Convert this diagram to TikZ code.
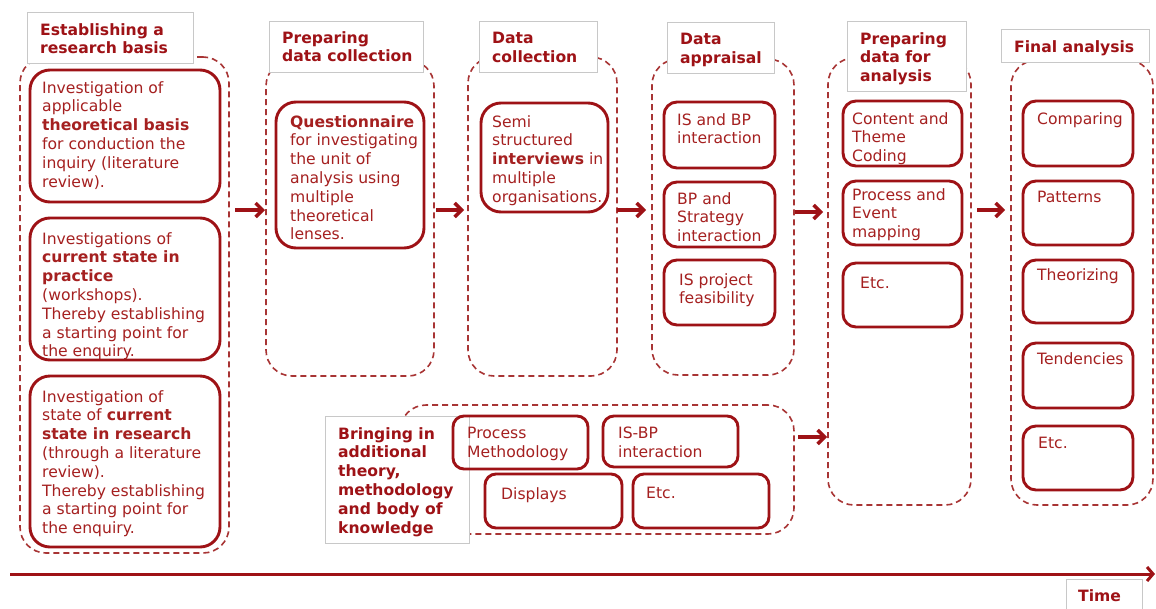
\documentclass[tikz,border=0pt]{standalone}
\usepackage{fontspec}
\setmainfont{DejaVu Sans}
\usetikzlibrary{arrows.meta,calc}
\definecolor{dred}{RGB}{158,18,22}
\definecolor{tred}{RGB}{165,32,32}
\definecolor{dashred}{RGB}{168,52,52}
\definecolor{gbord}{RGB}{200,200,200}
\begin{document}
\begin{tikzpicture}[x=1pt,y=-1pt,
  rect/.style={rectangle, anchor=north west, inner sep=0pt, outer sep=0pt},
  dbox/.style={rect, draw=dashred, line width=1.6pt, dash pattern=on 6pt off 4pt, rounded corners=26pt},
  ibox/.style={rect, draw=dred, line width=2.9pt, rounded corners=13pt},
  bigbox/.style={ibox, rounded corners=20pt},
  tbox/.style={rect, draw=gbord, line width=0.8pt, fill=white},
  txt/.style={anchor=north west, inner sep=0pt, align=left, text=tred, font=\fontsize{15.6}{18.8}\selectfont},
  ttl/.style={anchor=north west, inner sep=0pt, align=left, text=dred, font=\fontsize{15.6}{18.8}\selectfont\bfseries},
  arr/.style={draw=dred, line width=3.4pt, -{Straight Barb[length=7pt,width=14pt]}},
  axis/.style={draw=dred, line width=3pt, -{Straight Barb[length=6pt,width=14pt]}}
]
\clip (0,0) rectangle (1156,608);
\fill[white] (0,0) rectangle (1156,608);

% dashed phase containers
\node[dbox, minimum width=209pt, minimum height=496pt] (c1) at (20,57) {};
\node[dbox, minimum width=168pt, minimum height=316pt] (c2) at (266,60) {};
\node[dbox, minimum width=149pt, minimum height=319pt] (c3) at (468,57) {};
\node[dbox, minimum width=142pt, minimum height=316pt] (c4) at (652,59) {};
\node[dbox, minimum width=143pt, minimum height=447pt] (c5) at (828,58) {};
\node[dbox, minimum width=142pt, minimum height=445pt] (c6) at (1011,60) {};
\node[dbox, minimum width=394pt, minimum height=129pt] (c7) at (400,405) {};

% title boxes
\node[tbox, minimum width=166pt, minimum height=51pt] (h1) at (27,12) {};
\node[tbox, minimum width=154pt, minimum height=51pt] (h2) at (269,21) {};
\node[tbox, minimum width=118pt, minimum height=51pt] (h3) at (479,21) {};
\node[tbox, minimum width=107pt, minimum height=51pt] (h4) at (667,22) {};
\node[tbox, minimum width=119pt, minimum height=70pt] (h5) at (847,21) {};
\node[tbox, minimum width=148pt, minimum height=33pt] (h6) at (1001,29) {};
\node[tbox, minimum width=144pt, minimum height=127pt] (h7) at (325,416) {};
\node[tbox, minimum width=76pt, minimum height=40pt] (h8) at (1066,579) {};

\node[ttl] at (40,23) {Establishing a\\research basis};
\node[ttl] at (282,31) {Preparing\\data collection};
\node[ttl] at (492,32) {Data\\collection};
\node[ttl] at (680,33) {Data\\appraisal};
\node[ttl] at (860,32) {Preparing\\data for\\analysis};
\node[ttl] at (1014,40) {Final analysis};
\node[ttl] at (338,427) {Bringing in\\additional\\theory,\\methodology\\and body of\\knowledge};
\node[ttl] at (1078,589) {Time};

% column 1
\node[bigbox, minimum width=190pt, minimum height=132pt] (b11) at (30,70) {};
\node[bigbox, minimum width=190pt, minimum height=142pt] (b12) at (30,218) {};
\node[bigbox, minimum width=190pt, minimum height=171pt] (b13) at (30,376) {};
\node[txt] at (42,81) {Investigation of\\applicable\\\textbf{theoretical basis}\\for conduction the\\inquiry (literature\\review).};
\node[txt] at (42,232) {Investigations of\\\textbf{current state in}\\\textbf{practice}\\(workshops).\\Thereby establishing\\a starting point for\\the enquiry.};
\node[txt] at (42,390) {Investigation of\\state of \textbf{current}\\\textbf{state in research}\\(through a literature\\review).\\Thereby establishing\\a starting point for\\the enquiry.};

% column 2
\node[bigbox, minimum width=148pt, minimum height=146pt] (b21) at (276,102) {};
\node[txt] at (290,115) {\textbf{Questionnaire}\\for investigating\\the unit of\\analysis using\\multiple\\theoretical\\lenses.};

% column 3
\node[bigbox, minimum width=127pt, minimum height=109pt] (b31) at (481,103) {};
\node[txt] at (492,115) {Semi\\structured\\\textbf{interviews} in\\multiple\\organisations.};

% column 4
\node[ibox, minimum width=111pt, minimum height=66pt] (b41) at (664,102) {};
\node[ibox, minimum width=111pt, minimum height=65pt] (b42) at (664,182) {};
\node[ibox, minimum width=111pt, minimum height=65pt] (b43) at (664,260) {};
\node[txt] at (677,113) {IS and BP\\interaction};
\node[txt] at (677,192) {BP and\\Strategy\\interaction};
\node[txt] at (679,273) {IS project\\feasibility};

% column 5
\node[ibox, minimum width=119pt, minimum height=65pt] (b51) at (843,101) {};
\node[ibox, minimum width=119pt, minimum height=64pt] (b52) at (843,181) {};
\node[ibox, minimum width=119pt, minimum height=64pt] (b53) at (843,263) {};
\node[txt] at (852,112) {Content and\\Theme\\Coding};
\node[txt] at (852,188) {Process and\\Event\\mapping};
\node[txt] at (860,277) {Etc.};

% column 6
\node[ibox, minimum width=110pt, minimum height=65pt] (b61) at (1023,101) {};
\node[ibox, minimum width=110pt, minimum height=64pt] (b62) at (1023,181) {};
\node[ibox, minimum width=110pt, minimum height=63pt] (b63) at (1023,260) {};
\node[ibox, minimum width=110pt, minimum height=65pt] (b64) at (1023,343) {};
\node[ibox, minimum width=110pt, minimum height=64pt] (b65) at (1023,426) {};
\node[txt] at (1037,112) {Comparing};
\node[txt] at (1037,191) {Patterns};
\node[txt] at (1037,268) {Theorizing};
\node[txt] at (1037,352) {Tendencies};
\node[txt] at (1038,437) {Etc.};

% bottom group
\node[ibox, rounded corners=11pt, minimum width=135pt, minimum height=53pt] (b71) at (453,416) {};
\node[ibox, rounded corners=11pt, minimum width=135pt, minimum height=51pt] (b72) at (603,416) {};
\node[ibox, rounded corners=11pt, minimum width=137pt, minimum height=54pt] (b73) at (485,474) {};
\node[ibox, rounded corners=11pt, minimum width=136pt, minimum height=54pt] (b74) at (633,474) {};
\node[txt] at (467,427) {Process\\Methodology};
\node[txt] at (618,427) {IS-BP\\interaction};
\node[txt] at (501,487) {Displays};
\node[txt] at (646,487) {Etc.};

% connectors
\coordinate (ay) at (0,210);
\coordinate (by) at (0,437);
\draw[arr] ($(c1.east |- ay)+(6,0)$) -- ($(c2.west |- ay)+(-1,0)$);
\draw[arr] ($(c2.east |- ay)+(2,0)$) -- ($(c3.west |- ay)+(-4,0)$);
\draw[arr] ($(c3.east |- ay)+(0,0)$) -- ($(c4.west |- ay)+(-6,0)$);
\draw[arr] ($(c4.east |- ay)+(1,2)$) -- ($(c5.west |- ay)+(-5,2)$);
\draw[arr] ($(c5.east |- ay)+(6,0)$) -- ($(c6.west |- ay)+(-6,0)$);
\draw[arr] ($(c7.east |- by)+(4,0)$) -- ($(c5.west |- by)+(-1,0)$);

% time axis
\coordinate (t0) at (10,574);
\coordinate (t1) at (1155,574);
\draw[axis] (t0) -- (t1);
\end{tikzpicture}
\end{document}
